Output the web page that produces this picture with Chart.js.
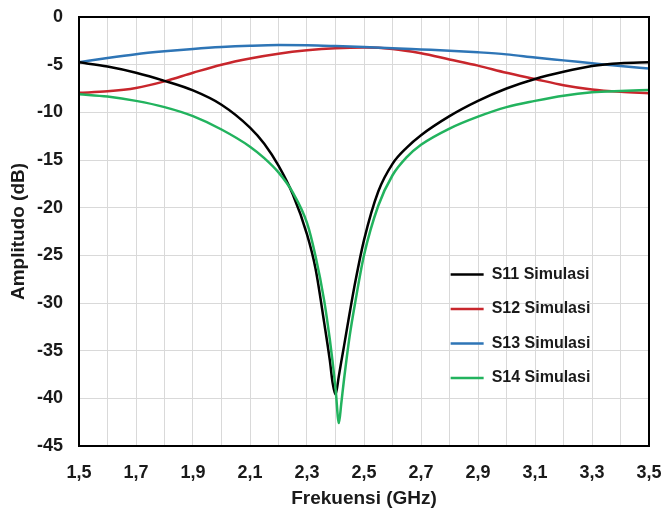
<!DOCTYPE html>
<html>
<head>
<meta charset="utf-8">
<script src="https://cdn.jsdelivr.net/npm/chart.js@4/dist/chart.umd.min.js"></script>
<style>
  html, body { margin: 0; padding: 0; background: #fff; }
  #wrap { width: 665px; height: 511px; }
</style>
</head>
<body>
<div id="wrap"><canvas id="chart" width="665" height="511"></canvas></div>
<script>
// frequency grid (GHz) for the smooth S12 / S13 curves
const freqCoarse = [1.5, 1.6, 1.7, 1.8, 1.9, 2.0, 2.1, 2.2, 2.3, 2.4, 2.5, 2.6, 2.7, 2.8, 2.9, 3.0, 3.1, 3.2, 3.3, 3.4, 3.5];
// finer grid around the resonance for S11 / S14
const freqFine = [1.5, 1.6, 1.7, 1.8, 1.9, 2.0, 2.1, 2.15, 2.2, 2.25, 2.3, 2.33, 2.36, 2.38, 2.39, 2.4, 2.412, 2.42, 2.43, 2.45, 2.47, 2.5, 2.55, 2.6, 2.65, 2.7, 2.8, 2.9, 3.0, 3.1, 3.2, 3.3, 3.4, 3.5];

const s11 = [-4.75, -5.2, -5.85, -6.7, -7.7, -9.2, -11.6, -13.3, -15.6, -18.6, -22.8, -26.4, -32.0, -36.0, -38.4, -39.6, -37.6, -36.2, -34.5, -31.0, -27.7, -23.4, -18.3, -15.4, -13.7, -12.4, -10.4, -8.8, -7.5, -6.5, -5.75, -5.15, -4.85, -4.75];
const s14 = [-8.1, -8.35, -8.8, -9.45, -10.4, -11.8, -13.6, -14.8, -16.3, -18.4, -21.6, -25.1, -29.7, -33.8, -36.2, -38.9, -42.6, -40.6, -38.0, -33.4, -29.8, -25.0, -19.8, -16.6, -14.7, -13.4, -11.7, -10.45, -9.45, -8.8, -8.25, -7.9, -7.75, -7.65];
const s12 = [-7.95, -7.8, -7.45, -6.75, -5.85, -5.0, -4.35, -3.85, -3.5, -3.28, -3.2, -3.35, -3.8, -4.45, -5.1, -5.85, -6.5, -7.15, -7.6, -7.85, -8.0];
const s13 = [-4.75, -4.3, -3.9, -3.6, -3.35, -3.15, -3.02, -2.95, -2.97, -3.05, -3.15, -3.27, -3.4, -3.53, -3.7, -3.92, -4.25, -4.55, -4.85, -5.15, -5.4];

const seriesNames = ['S11 Simulasi', 'S12 Simulasi', 'S13 Simulasi', 'S14 Simulasi'];
const seriesColors = ['#000000', '#C8262C', '#2E75B6', '#22B35E'];

const xTickValues = [1.5, 1.7, 1.9, 2.1, 2.3, 2.5, 2.7, 2.9, 3.1, 3.3, 3.5];
const xTickLabels = ['1,5', '1,7', '1,9', '2,1', '2,3', '2,5', '2,7', '2,9', '3,1', '3,3', '3,5'];

const FONT = "'Liberation Sans', Arial, sans-serif";
const TEXT = '#1a1a1a';

function toPoints(xs, ys) {
  return xs.map((x, i) => ({ x: x, y: ys[i] }));
}

// plot frame + legend drawn inside the plot area
const framePlugin = {
  id: 'frame',
  afterDatasetsDraw(chart) {
    const { ctx, chartArea: a } = chart;
    ctx.save();
    ctx.strokeStyle = '#000';
    ctx.lineWidth = 2;
    ctx.strokeRect(a.left, a.top, a.right - a.left, a.bottom - a.top);

    const w = a.right - a.left;
    const h = a.bottom - a.top;
    const x0 = a.left + w * 0.652;
    const y0 = a.top + h * 0.6;
    ctx.font = `bold 16px ${FONT}`;
    ctx.textBaseline = 'middle';
    ctx.fillStyle = TEXT;
    seriesNames.forEach((name, i) => {
      const y = y0 + i * 34.5;
      ctx.strokeStyle = seriesColors[i];
      ctx.lineWidth = 2.5;
      ctx.beginPath();
      ctx.moveTo(x0, y);
      ctx.lineTo(x0 + 33, y);
      ctx.stroke();
      ctx.fillText(name, x0 + 41, y);
    });
    ctx.restore();
  }
};

const datasets = [
  { label: seriesNames[0], data: toPoints(freqFine, s11) },
  { label: seriesNames[1], data: toPoints(freqCoarse, s12) },
  { label: seriesNames[2], data: toPoints(freqCoarse, s13) },
  { label: seriesNames[3], data: toPoints(freqFine, s14) }
].map((d, i) => ({
  ...d,
  borderColor: seriesColors[i],
  backgroundColor: seriesColors[i],
  borderWidth: 2.5,
  pointRadius: 0,
  fill: false,
  cubicInterpolationMode: 'monotone'
}));

// draw S12/S13 below the S11/S14 curves, like the reference
datasets[1].order = 3;
datasets[2].order = 2;
datasets[0].order = 1;
datasets[3].order = 0;

new Chart(document.getElementById('chart'), {
  type: 'line',
  data: { datasets },
  options: {
    responsive: false,
    animation: false,
    layout: { padding: { left: 0, top: 17, right: 16, bottom: 0 } },
    plugins: {
      legend: { display: false },
      tooltip: { enabled: false }
    },
    scales: {
      x: {
        type: 'linear',
        min: 1.5,
        max: 3.5,
        afterBuildTicks(scale) {
          const ticks = [];
          for (let k = 15; k <= 35; k++) ticks.push({ value: k / 10 });
          scale.ticks = ticks;
        },
        afterFit(scale) {
          scale.height = 65;
          scale.paddingLeft = 0;
          scale.paddingRight = 0;
        },
        grid: { color: '#d9d9d9', lineWidth: 1, drawTicks: false },
        border: { display: false },
        ticks: {
          autoSkip: false,
          maxRotation: 0,
          padding: 16,
          color: TEXT,
          font: { family: FONT, size: 18, weight: 'bold' },
          callback(value) {
            const idx = xTickValues.findIndex(v => Math.abs(v - value) < 1e-6);
            return idx >= 0 ? xTickLabels[idx] : '';
          }
        },
        title: {
          display: true,
          text: 'Frekuensi (GHz)',
          color: TEXT,
          font: { family: FONT, size: 19, weight: 'bold' },
          padding: { top: 0, bottom: 1 }
        }
      },
      y: {
        min: -45,
        max: 0,
        afterFit(scale) {
          scale.width = 79;
          scale.paddingTop = 0;
          scale.paddingBottom = 0;
        },
        grid: { color: '#d9d9d9', lineWidth: 1, drawTicks: false },
        border: { display: false },
        ticks: {
          stepSize: 5,
          padding: 16,
          color: TEXT,
          font: { family: FONT, size: 18, weight: 'bold' }
        },
        title: {
          display: true,
          text: 'Amplitudo (dB)',
          color: TEXT,
          font: { family: FONT, size: 19, weight: 'bold' },
          padding: { top: 7, bottom: 0 }
        }
      }
    }
  },
  plugins: [framePlugin]
});
</script>
</body>
</html>
